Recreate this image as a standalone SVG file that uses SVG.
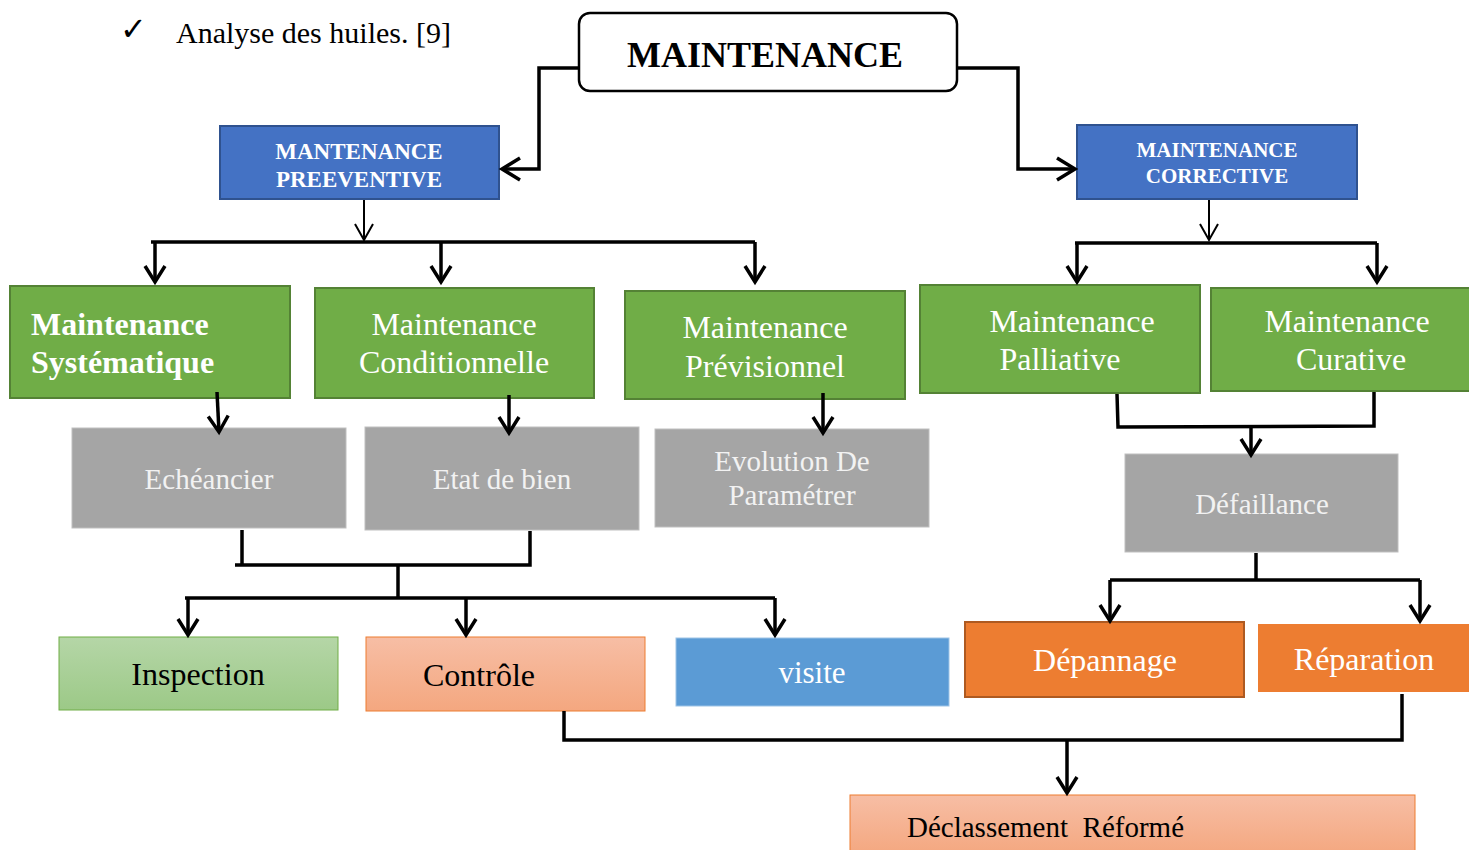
<svg xmlns="http://www.w3.org/2000/svg" width="1469" height="850" viewBox="0 0 1469 850">
<style>
.t{font-family:"Liberation Serif","Times New Roman",serif;}
.w{fill:#fff;}
.gw{fill:#F2F2F2;}
.k{fill:#000;}
.blue{fill:#4472C4;stroke:#2F528F;stroke-width:2;}
.green{fill:#70AD47;stroke:#548235;stroke-width:2;}
.gray{fill:#A5A5A5;stroke:#BFBFBF;stroke-width:1;}
.c{fill:none;stroke:#000;stroke-width:3.5;stroke-linejoin:miter;}
.thin{fill:none;stroke:#000;stroke-width:2;}
</style>
<defs>
<marker id="ah" markerUnits="userSpaceOnUse" markerWidth="40" markerHeight="40" viewBox="-20 -20 40 40" refX="0" refY="0" orient="auto">
<path d="M-16,-10 L0,0 L-16,10" fill="none" stroke="#000" stroke-width="3.5"/>
</marker>
<marker id="ahb" markerUnits="userSpaceOnUse" markerWidth="40" markerHeight="40" viewBox="-20 -20 40 40" refX="0" refY="0" orient="auto">
<path d="M-18,-11 L0,0 L-18,11" fill="none" stroke="#000" stroke-width="3.5"/>
</marker>
<marker id="aht" markerUnits="userSpaceOnUse" markerWidth="40" markerHeight="40" viewBox="-20 -20 40 40" refX="0" refY="0" orient="auto">
<path d="M-16,-9 L0,0 L-16,9" fill="none" stroke="#000" stroke-width="2"/>
</marker>
<linearGradient id="gIns" x1="0" y1="0" x2="0" y2="1"><stop offset="0" stop-color="#B5D6A7"/><stop offset="1" stop-color="#9CC987"/></linearGradient>
<linearGradient id="gSal" x1="0" y1="0" x2="0" y2="1"><stop offset="0" stop-color="#F7BEA5"/><stop offset="1" stop-color="#F4A77F"/></linearGradient>
</defs>

<g id="header">
<text class="t k" x="120" y="40" font-size="32" font-family="DejaVu Sans, sans-serif">✓</text>
<text class="t k" x="176" y="43" font-size="30">Analyse des huiles. [9]</text>
</g>

<g id="maintenance">
<rect x="579" y="13" width="378" height="78" rx="11" fill="#fff" stroke="#000" stroke-width="2.5"/>
<text class="t k" x="765" y="67" font-size="36" font-weight="bold" text-anchor="middle">MAINTENANCE</text>
</g>
<g id="preventive">
<rect class="blue" x="220" y="126" width="279" height="73"/>
<text class="t w" font-size="23" font-weight="bold" text-anchor="middle"><tspan x="359" y="159">MANTENANCE</tspan><tspan x="359" y="187">PREEVENTIVE</tspan></text>
</g>
<g id="corrective">
<rect class="blue" x="1077" y="125" width="280" height="74"/>
<text class="t w" font-size="21" font-weight="bold" text-anchor="middle"><tspan x="1217" y="157">MAINTENANCE</tspan><tspan x="1217" y="183">CORRECTIVE</tspan></text>
</g>

<g id="systematique">
<rect class="green" x="10" y="286" width="280" height="112"/>
<text class="t w" font-size="32" font-weight="bold"><tspan x="31" y="335">Maintenance</tspan><tspan x="31" y="373">Systématique</tspan></text>
</g>
<g id="conditionnelle">
<rect class="green" x="315" y="288" width="279" height="110"/>
<text class="t w" font-size="32" text-anchor="middle"><tspan x="454" y="335">Maintenance</tspan><tspan x="454" y="373">Conditionnelle</tspan></text>
</g>
<g id="previsionnel">
<rect class="green" x="625" y="291" width="280" height="108"/>
<text class="t w" font-size="32" text-anchor="middle"><tspan x="765" y="338">Maintenance</tspan><tspan x="765" y="377">Prévisionnel</tspan></text>
</g>
<g id="palliative">
<rect class="green" x="920" y="285" width="280" height="108"/>
<text class="t w" font-size="32" text-anchor="middle"><tspan x="1072" y="332">Maintenance</tspan><tspan x="1060" y="370">Palliative</tspan></text>
</g>
<g id="curative">
<rect class="green" x="1211" y="288" width="262" height="103"/>
<text class="t w" font-size="32" text-anchor="middle"><tspan x="1347" y="332">Maintenance</tspan><tspan x="1351" y="370">Curative</tspan></text>
</g>

<g id="echeancier">
<rect class="gray" x="72" y="428" width="274" height="100"/>
<text class="t gw" x="209" y="489" font-size="29" text-anchor="middle">Echéancier</text>
</g>
<g id="etat">
<rect class="gray" x="365" y="427" width="274" height="103"/>
<text class="t gw" x="502" y="489" font-size="29" text-anchor="middle">Etat de bien</text>
</g>
<g id="evolution">
<rect class="gray" x="655" y="429" width="274" height="98"/>
<text class="t gw" font-size="29" text-anchor="middle"><tspan x="792" y="471">Evolution De</tspan><tspan x="792" y="505">Paramétrer</tspan></text>
</g>
<g id="defaillance">
<rect class="gray" x="1125" y="454" width="273" height="98"/>
<text class="t gw" x="1262" y="514" font-size="29" text-anchor="middle">Défaillance</text>
</g>

<g id="inspection">
<rect x="59" y="637" width="279" height="73" fill="url(#gIns)" stroke="#70AD47" stroke-width="1"/>
<text class="t k" x="198" y="685" font-size="32" text-anchor="middle">Inspection</text>
</g>
<g id="controle">
<rect x="366" y="637" width="279" height="74" fill="url(#gSal)" stroke="#ED7D31" stroke-width="1"/>
<text class="t k" x="479" y="686" font-size="32" text-anchor="middle">Contrôle</text>
</g>
<g id="visite">
<rect x="676" y="638" width="273" height="68" fill="#5B9BD5" stroke="#9DC3E6" stroke-width="1"/>
<text class="t w" x="812" y="683" font-size="31" text-anchor="middle">visite</text>
</g>
<g id="depannage">
<rect x="965" y="622" width="279" height="75" fill="#ED7D31" stroke="#AE5A21" stroke-width="2"/>
<text class="t w" x="1105" y="671" font-size="32" text-anchor="middle">Dépannage</text>
</g>
<g id="reparation">
<rect x="1258" y="624" width="215" height="68" fill="#ED7D31"/>
<text class="t w" x="1364" y="670" font-size="32" text-anchor="middle">Réparation</text>
</g>
<g id="declassement">
<rect x="850" y="795" width="565" height="60" fill="url(#gSal)" stroke="#ED7D31" stroke-width="1"/>
<text class="t k" x="907" y="837" font-size="29" xml:space="preserve">Déclassement  Réformé</text>
</g>

<g id="connectors">
<polyline class="c" points="579,68 539,68 539,169 502,169" marker-end="url(#ahb)"/>
<polyline class="c" points="957,68 1018,68 1018,169 1075,169" marker-end="url(#ahb)"/>
<line class="thin" x1="364" y1="200" x2="364" y2="240" marker-end="url(#aht)"/>
<polyline class="c" points="151,242 755,242"/>
<line class="c" x1="155" y1="242" x2="155" y2="282" marker-end="url(#ah)"/>
<line class="c" x1="441" y1="242" x2="441" y2="282" marker-end="url(#ah)"/>
<line class="c" x1="755" y1="242" x2="755" y2="282" marker-end="url(#ah)"/>
<line class="thin" x1="1209" y1="200" x2="1209" y2="240" marker-end="url(#aht)"/>
<polyline class="c" points="1075,243 1377,243"/>
<line class="c" x1="1077" y1="243" x2="1077" y2="282" marker-end="url(#ah)"/>
<line class="c" x1="1377" y1="243" x2="1377" y2="282" marker-end="url(#ah)"/>
<line class="c" x1="217" y1="392" x2="219" y2="432" marker-end="url(#ah)"/>
<line class="c" x1="509" y1="395" x2="509" y2="433" marker-end="url(#ah)"/>
<line class="c" x1="823" y1="393" x2="823" y2="433" marker-end="url(#ah)"/>
<polyline class="c" points="1117,394 1118,427 1374,426 1374,392"/>
<line class="c" x1="1251" y1="427" x2="1251" y2="455" marker-end="url(#ah)"/>
<polyline class="c" points="242,530 242,565 235,565 530,565 530,531"/>
<line class="c" x1="398" y1="565" x2="398" y2="598"/>
<polyline class="c" points="185,598 775,598"/>
<line class="c" x1="188" y1="598" x2="188" y2="635" marker-end="url(#ah)"/>
<line class="c" x1="466" y1="598" x2="466" y2="635" marker-end="url(#ah)"/>
<line class="c" x1="775" y1="598" x2="775" y2="635" marker-end="url(#ah)"/>
<line class="c" x1="1256" y1="553" x2="1256" y2="580"/>
<polyline class="c" points="1110,580 1420,580"/>
<line class="c" x1="1110" y1="580" x2="1110" y2="621" marker-end="url(#ah)"/>
<line class="c" x1="1420" y1="580" x2="1420" y2="621" marker-end="url(#ah)"/>
<polyline class="c" points="564,711 564,740 1402,740 1402,694"/>
<line class="c" x1="1067" y1="740" x2="1067" y2="793" marker-end="url(#ah)"/>
</g>
</svg>
